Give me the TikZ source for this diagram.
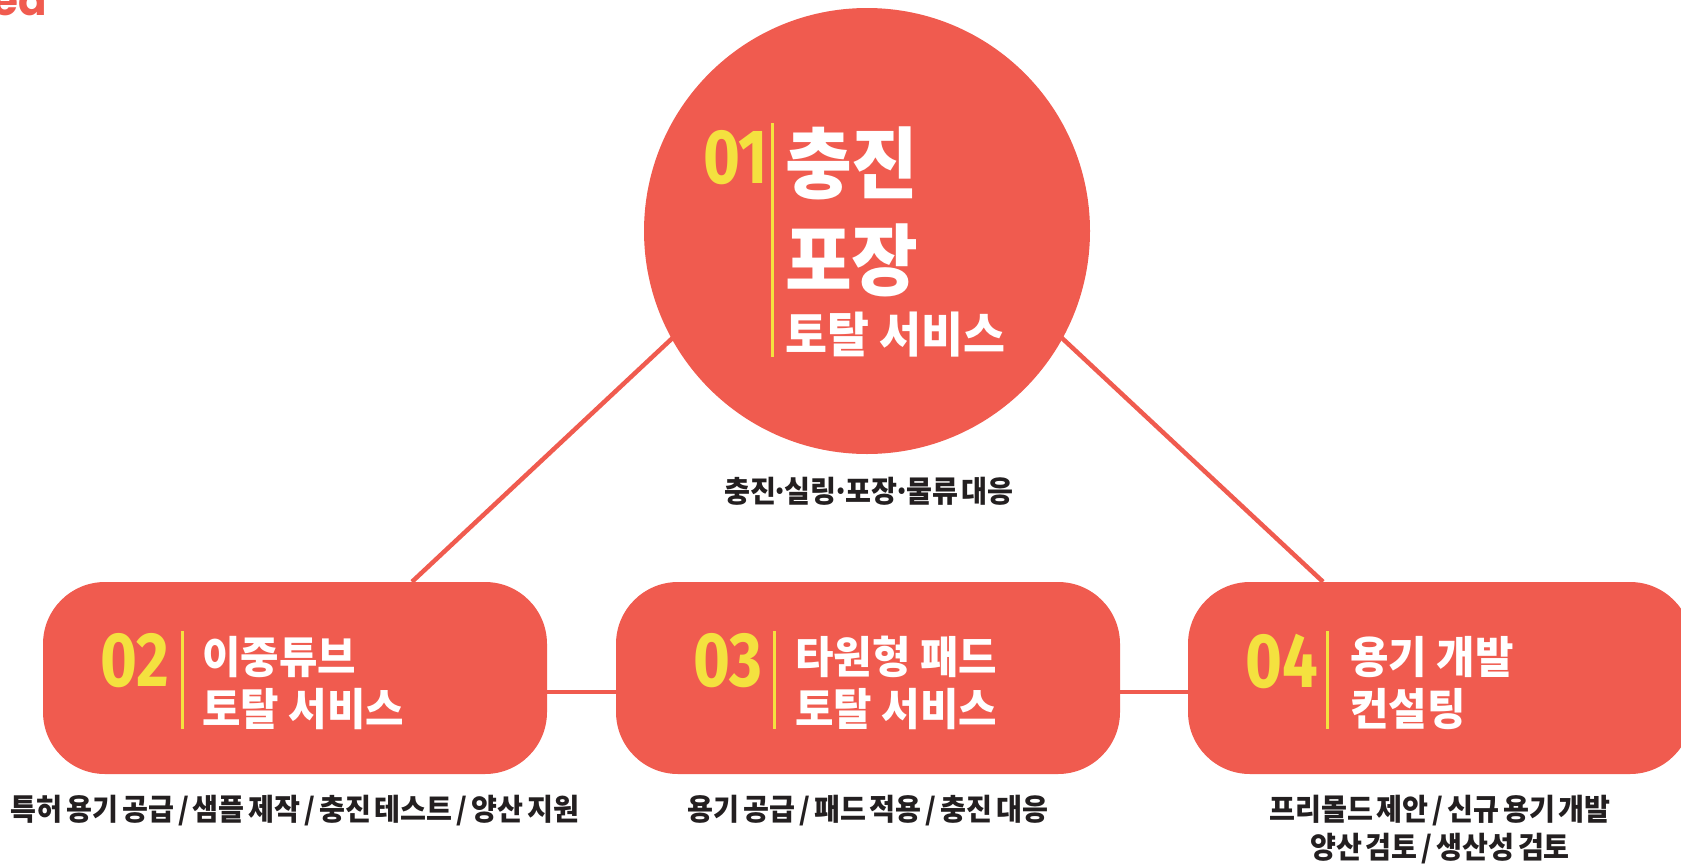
\documentclass[tikz,border=0pt]{standalone}
\usepackage{fontspec}
\usetikzlibrary{backgrounds}
\newfontfamily\krbig{Noto Sans CJK KR}[FakeStretch=0.93]
\newfontfamily\krf{Noto Sans CJK KR}[FakeStretch=0.95]
\newfontfamily\krcap{Noto Sans CJK KR}[FakeStretch=0.94,WordSpace=0.6]
\newfontfamily\numf{Fira Sans}[FakeStretch=0.82]
\newfontfamily\latf{Poppins}
\newcommand\mdot{\hspace{-0.14em}·\hspace{-0.14em}}
\definecolor{brand}{HTML}{F05B4F}
\definecolor{numyellow}{HTML}{F4E13F}
\definecolor{darktext}{HTML}{231F20}
\begin{document}
\begin{tikzpicture}[x=1pt,y=-1pt,
  stage/.style={fill=brand, draw=none, rounded corners=62pt, minimum width=504pt, minimum height=192pt, inner sep=0pt},
  hub/.style={circle, fill=brand, draw=none, minimum size=446pt, inner sep=0pt},
  conn/.style={draw=brand, line width=4.5pt},
  divider/.style={draw=numyellow, line width=3pt},
  num/.style={text=numyellow, font=\numf\bfseries\fontsize{77}{77}\selectfont, anchor=west, inner sep=0pt},
  bigtitle/.style={text=white, font=\krbig\bfseries\fontsize{78}{78}\selectfont, anchor=west, inner sep=0pt},
  midtitle/.style={text=white, font=\krf\bfseries\fontsize{48}{48}\selectfont, anchor=west, inner sep=0pt},
  boxtitle/.style={text=white, font=\krf\bfseries\fontsize{44}{44}\selectfont, anchor=west, inner sep=0pt},
  caption/.style={text=darktext, font=\krcap\bfseries\fontsize{30}{38}\selectfont, align=center, inner sep=0pt}
]
\useasboundingbox (0,0) rectangle (1681,865);
\clip (0,0) rectangle (1681,865);

% fragment of heading at top-left
\node[text=brand, font=\latf\bfseries\fontsize{42}{42}\selectfont, anchor=base east, inner sep=0pt] (frag) at (47,15) {ea};

% hub circle
\node[hub] (c1) at (867,231) {};
\node[num] (n1) at (703,158) {01};
\draw[divider] (772,123) -- (772,357);
\node[bigtitle] (t1a) at (785,163.5) {충진};
\node[bigtitle] (t1b) at (785,260) {포장};
\node[midtitle] (t1c) at (785,335) {토탈 서비스};
\node[caption] (cap1) at (869,491) {충진\mdot 실링\mdot 포장\mdot 물류 대응};

% stages
\node[stage] (b2) at (295,678) {};
\node[stage] (b3) at (868,678) {};
\node[stage] (b4) at (1440,678) {};

\node[num] (n2) at (100,661) {02};
\draw[divider] (182,631) -- (182,729);
\node[boxtitle] (t2a) at (202,657) {이중튜브};
\node[boxtitle] (t2b) at (202,709) {토탈 서비스};

\node[num] (n3) at (693,661) {03};
\draw[divider] (774,631) -- (774,729);
\node[boxtitle] (t3a) at (795,657) {타원형 패드};
\node[boxtitle] (t3b) at (795,709) {토탈 서비스};

\node[num] (n4) at (1245,661) {04};
\draw[divider] (1327,631) -- (1327,729);
\node[boxtitle] (t4a) at (1350,657) {용기 개발};
\node[boxtitle] (t4b) at (1350,709) {컨설팅};

\node[caption] (cap2) at (295,811) {특허 용기 공급 / 샘플 제작 / 충진 테스트 / 양산 지원};
\node[caption] (cap3) at (868,811) {용기 공급 / 패드 적용 / 충진 대응};
\node[caption] (cap4) at (1440,830) {프리몰드 제안 / 신규 용기 개발\\양산 검토 / 생산성 검토};

% connectors
\coordinate (apex) at (867,156);
\coordinate (hl) at (0,692);
\begin{scope}[on background layer]
  \draw[conn] (apex) -- ([xshift=117pt]b2.north);
  \draw[conn] (apex) -- ([xshift=-117pt]b4.north);
  \draw[conn] (b2.east |- hl) -- (b3.west |- hl);
  \draw[conn] (b3.east |- hl) -- (b4.west |- hl);
\end{scope}
\end{tikzpicture}
\end{document}
